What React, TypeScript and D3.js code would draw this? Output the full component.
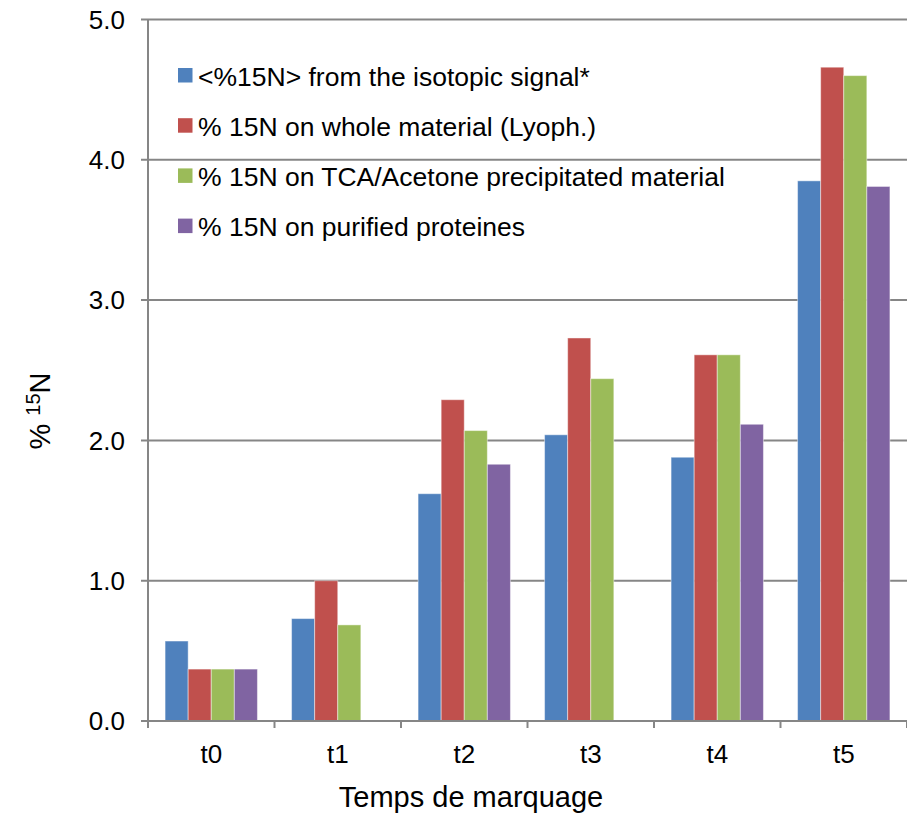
import React from "react";
import * as d3 from "d3";

const categories = ["t0", "t1", "t2", "t3", "t4", "t5"];
const seriesNames = [
  "<%15N> from the isotopic signal*",
  "% 15N on whole material (Lyoph.)",
  "% 15N on TCA/Acetone precipitated material",
  "% 15N on purified proteines",
];
const seriesColors = ["#4F81BD", "#C0504D", "#9BBB59", "#8064A2"];
const isotopicSignal = [0.57, 0.73, 1.62, 2.04, 1.88, 3.85];
const wholeMaterial = [0.37, 1.0, 2.29, 2.73, 2.61, 4.66];
const tcaAcetone = [0.37, 0.685, 2.07, 2.44, 2.61, 4.6];
const purifiedProteines: (number | null)[] = [0.37, null, 1.83, null, 2.115, 3.81];
const seriesValues = [isotopicSignal, wholeMaterial, tcaAcetone, purifiedProteines];
const yTicks = [0, 1, 2, 3, 4, 5];

const W = 907;
const H = 818;
const left = 148;
const right = 907;
const top = 19.5;
const bottom = 721;

export default function App() {
  const x = d3.scaleBand<string>().domain(categories).range([left, right]).paddingInner(0.27).paddingOuter(0.135);
  const xs = d3.scaleBand<number>().domain([0, 1, 2, 3]).range([0, x.bandwidth()]);
  const y = d3.scaleLinear().domain([0, 5]).range([bottom, top]);
  const band = (right - left) / categories.length;
  const font = "'Liberation Sans', Arial, sans-serif";
  return (
    <svg width={W} height={H} style={{ position: "absolute", left: 0, top: 0, background: "#fff" }}>
      {yTicks.map((t) => (
        <g key={t}>
          <line x1={left - 7} x2={right} y1={y(t)} y2={y(t)} stroke="#868686" strokeWidth={2} />
          <text x={125} y={y(t)} dy="0.36em" textAnchor="end" fontFamily={font} fontSize={26} fill="#000">
            {t.toFixed(1)}
          </text>
        </g>
      ))}
      {seriesValues.map((vals, si) =>
        vals.map((v, ci) =>
          v == null ? null : (
            <rect
              key={`${si}-${ci}`}
              x={(x(categories[ci]) ?? 0) + (xs(si) ?? 0)}
              y={y(v)}
              width={xs.bandwidth()}
              height={bottom - y(v)}
              fill={seriesColors[si]}
              stroke="rgba(255,255,255,0.45)"
              strokeWidth={1}
            />
          )
        )
      )}
      <line x1={left} x2={left} y1={top} y2={bottom + 1} stroke="#868686" strokeWidth={2} />
      <line x1={left - 7} x2={right} y1={bottom} y2={bottom} stroke="#868686" strokeWidth={2} />
      {d3.range(categories.length + 1).map((i) => (
        <line key={i} x1={left + i * band} x2={left + i * band} y1={bottom} y2={bottom + 7} stroke="#868686" strokeWidth={2} />
      ))}
      {categories.map((c) => (
        <text key={c} x={(x(c) ?? 0) + x.bandwidth() / 2} y={763} textAnchor="middle" fontFamily={font} fontSize={26} fill="#000">
          {c}
        </text>
      ))}
      <text x={471} y={807} textAnchor="middle" fontFamily={font} fontSize={29} fill="#000">
        Temps de marquage
      </text>
      <text transform="translate(50,411) rotate(-90)" textAnchor="middle" fontFamily={font} fontSize={29} fill="#000">
        <tspan>% </tspan>
        <tspan fontSize={20} dy={-10}>15</tspan>
        <tspan dy={10}>N</tspan>
      </text>
      {seriesNames.map((n, i) => (
        <g key={n} transform={`translate(178, ${76 + i * 50.2})`}>
          <rect x={0} y={-8} width={14.5} height={14.5} fill={seriesColors[i]} />
          <text x={20} y={0} dy="0.36em" fontFamily={font} fontSize={26.5} fill="#000">
            {n}
          </text>
        </g>
      ))}
    </svg>
  );
}
